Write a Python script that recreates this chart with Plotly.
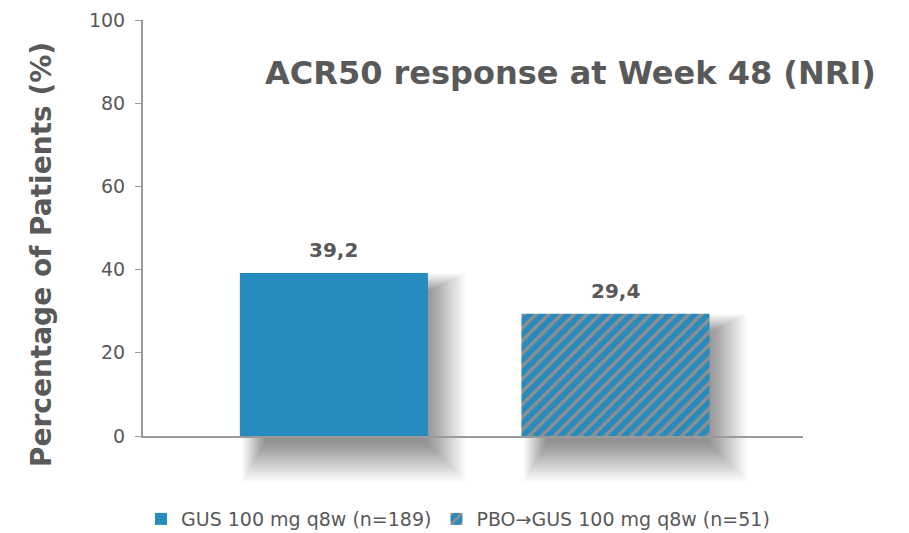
import plotly.graph_objects as go

# ACR50 response at Week 48 (NRI), percentage of patients
groups = ["GUS 100 mg q8w (n=189)", "PBO\u2192GUS 100 mg q8w (n=51)"]
values = [39.2, 29.4]
value_labels = ["39,2", "29,4"]
y_ticks = [0, 20, 40, 60, 80, 100]

BLUE = "#268bbe"
STRIPE = "#8f8f8f"
TEXT = "#595959"
AXIS = "#9a9a9a"
FONT = "DejaVu Sans"

x_pos = [0, 1]
bar_width = 0.668
x_range = [-0.678, 1.666]
y_range = [0, 100]

fig = go.Figure()

fig.add_trace(go.Bar(
    x=[x_pos[0]], y=[values[0]], width=bar_width, name=groups[0],
    marker=dict(color=BLUE, line=dict(width=0)),
))
fig.add_trace(go.Bar(
    x=[x_pos[1]], y=[values[1]], width=bar_width, name=groups[1],
    marker=dict(color=BLUE, line=dict(width=0),
                pattern=dict(shape="/", fgcolor=STRIPE, bgcolor=BLUE,
                             size=9, solidity=0.38, fillmode="replace")),
))

# Plot-area geometry, used to place the soft shadows in paper units
margin_l, margin_r, margin_t, margin_b = 143, 106, 20, 97
W, H = 909, 533
pw = W - margin_l - margin_r
ph = H - margin_t - margin_b


def to_paper_x(v):
    return (v - x_range[0]) / (x_range[1] - x_range[0])


def to_paper_y(v):
    return (v - y_range[0]) / (y_range[1] - y_range[0])


shapes = []
layers = 40
max_spread = 40
for xp, v in zip(x_pos, values):
    x0 = to_paper_x(xp - bar_width / 2)
    x1 = to_paper_x(xp + bar_width / 2)
    y1 = to_paper_y(v)
    # soft drop shadow, offset down-right, from stacked translucent rectangles
    core_l, core_r = x0 + 26 / pw, x1 - 2 / pw
    core_t, core_b = y1 - 20 / ph, -6 / ph
    for i in range(1, layers + 1):
        s = max_spread * (i / layers) ** 1.1
        shapes.append(dict(type="rect", xref="paper", yref="paper",
                           x0=core_l - 0.6 * s / pw, x1=core_r + s / pw,
                           y0=core_b - s / ph, y1=core_t + 0.5 * s / ph,
                           fillcolor="rgba(0,0,0,0.0125)",
                           line=dict(width=0), layer="below"))

fig.update_layout(shapes=shapes)

for xp, v, lab in zip(x_pos, values, value_labels):
    fig.add_annotation(x=xp, y=v, text=lab, showarrow=False, yanchor="bottom",
                       yshift=9, font=dict(family=FONT, size=20, color=TEXT,
                                           weight="bold"))

fig.add_annotation(xref="paper", yref="paper", x=(878 - margin_l) / pw,
                   y=(H - margin_b - 73) / ph,
                   xanchor="right", yanchor="middle", showarrow=False,
                   text="ACR50 response at Week 48 (NRI)",
                   font=dict(family=FONT, size=32, color=TEXT, weight="bold"))

fig.add_annotation(xref="paper", yref="paper", x=(41 - margin_l) / pw,
                   y=(H - margin_b - 255) / ph, textangle=-90,
                   xanchor="center", yanchor="middle", showarrow=False,
                   text="Percentage of Patients (%)",
                   font=dict(family=FONT, size=28, color=TEXT, weight="bold"))

fig.update_layout(
    width=W, height=H,
    margin=dict(l=margin_l, r=margin_r, t=margin_t, b=margin_b,
                autoexpand=False),
    paper_bgcolor="white", plot_bgcolor="rgba(0,0,0,0)",
    barmode="overlay",
    showlegend=True,
    legend=dict(orientation="h", x=-0.003, xanchor="left", y=-0.154,
                yanchor="top", font=dict(family=FONT, size=19, color=TEXT),
                bgcolor="rgba(0,0,0,0)", itemwidth=30, tracegroupgap=0),
    xaxis=dict(range=x_range, showticklabels=False, ticks="", showgrid=False,
               zeroline=False, showline=True, linecolor=AXIS, linewidth=2,
               fixedrange=True),
    yaxis=dict(range=y_range, tickvals=y_ticks, ticks="outside", ticklen=6,
               tickcolor=AXIS, tickwidth=1, showgrid=False, zeroline=False,
               showline=True, linecolor=AXIS, linewidth=2,
               ticklabelstandoff=6,
               tickfont=dict(family=FONT, size=19, color=TEXT),
               fixedrange=True),
)

fig.write_html("out.html")
